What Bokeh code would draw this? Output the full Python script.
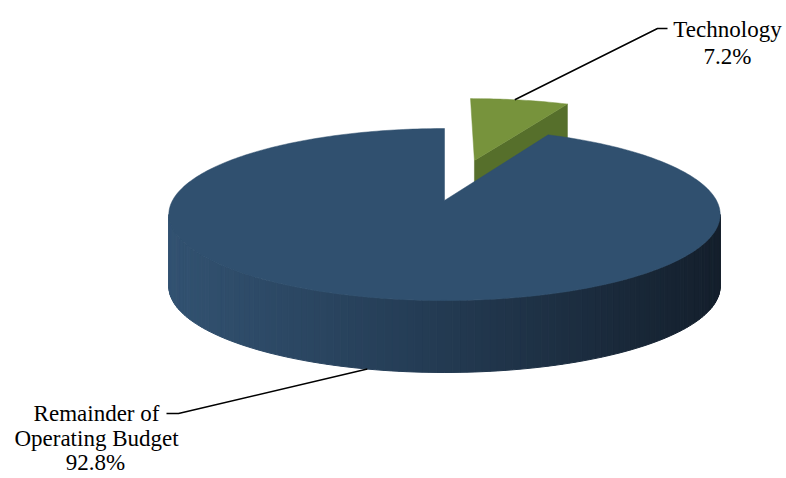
import math
from bokeh.plotting import figure
from bokeh.models import Range1d
from bokeh.core.properties import value
from bokeh.embed import file_html
from bokeh.resources import INLINE

# ---- data ----
categories = ["Technology", "Remainder of Operating Budget"]
shares = [7.2, 92.8]
label_lines = [["Technology", "7.2%"], ["Remainder of", "Operating Budget", "92.8%"]]

# ---- projection (3D pie with perspective) ----
CX, CY = 444.0, 200.0     # projected pie centre
A, B = 272.0, 83.7        # horizontal / depth scale
K = 0.163                 # perspective factor
DEPTH = 72.0              # thickness in px
EXPLODE = 0.532           # explosion of the first slice (radius units)


def proj(X, Y, drop=0.0):
    w = 1.0 / (1.0 + K * Y)
    return CX + A * X * w, CY - B * Y * w + drop


def rim(theta_deg, off=(0.0, 0.0)):
    t = math.radians(theta_deg)
    return math.sin(t) + off[0], math.cos(t) + off[1]


total = sum(shares)
tech_span = 360.0 * shares[0] / total
mid = math.radians(tech_span / 2)
off = (EXPLODE * math.sin(mid), EXPLODE * math.cos(mid))

p = figure(width=786, height=478, x_range=Range1d(0, 786), y_range=Range1d(478, 0),
           output_backend="svg", toolbar_location=None, min_border=0)
p.axis.visible = False
p.grid.visible = False
p.outline_line_color = None
p.background_fill_color = "white"
p.border_fill_color = "white"

# ---- technology slice (exploded) ----
apx, apy = proj(*off)
r1x, r1y = proj(*rim(tech_span, off))
# cut face (visible, dark green)
p.patch([apx, r1x, r1x, apx], [apy, r1y, r1y + DEPTH, apy + DEPTH],
        fill_color="#566f2b", line_color="#566f2b", line_width=0.5)
# top face
xs, ys = [apx], [apy]
n = 30
for i in range(n + 1):
    th = tech_span * i / n
    x, y = proj(*rim(th, off))
    xs.append(x); ys.append(y)
p.patch(xs, ys, fill_color="#77933c", line_color="#77933c", line_width=0.5)

# ---- remainder slice ----
th_r = 90 + math.degrees(math.asin(K))
th_l = 270 - math.degrees(math.asin(K))
N = 120
x_left, x_right = proj(*rim(th_l))[0], proj(*rim(th_r))[0]
c_left = (50, 82, 113)
c_mid = (35, 58, 82)
c_right = (20, 31, 44)


def shade(x):
    t = (x - x_left) / (x_right - x_left)
    t = min(max(t, 0), 1)
    if t < 0.5:
        u = t / 0.5
        c = [c_left[j] + (c_mid[j] - c_left[j]) * u for j in range(3)]
    else:
        u = (t - 0.5) / 0.5
        c = [c_mid[j] + (c_right[j] - c_mid[j]) * u for j in range(3)]
    return "#%02x%02x%02x" % tuple(int(round(v)) for v in c)


sx, sy, sc = [], [], []
for i in range(N):
    a0 = th_r + (th_l - th_r) * i / N
    a1 = th_r + (th_l - th_r) * (i + 1) / N
    x0, y0 = proj(*rim(a0))
    x1, y1 = proj(*rim(a1))
    sx.append([x0, x1, x1, x0])
    sy.append([y0, y1, y1 + DEPTH, y0 + DEPTH])
    sc.append(shade((x0 + x1) / 2))
p.patches(sx, sy, fill_color=sc, line_color=sc, line_width=1)

cx0, cy0 = proj(0.0, 0.0)
xs, ys = [cx0], [cy0]
n = 300
for i in range(n + 1):
    th = tech_span + (360 - tech_span) * i / n
    x, y = proj(*rim(th))
    xs.append(x); ys.append(y)
p.patch(xs, ys, fill_color="#30506f", line_color="#30506f", line_width=0.5)

# ---- leader lines ----
ax, ay = proj(*rim(tech_span * 0.45, off))
p.line([ax, 657, 667], [ay, 28, 28], line_color="black", line_width=1.5)
bx, by = proj(*rim(194))
p.line([bx + 1, 178, 166], [by + DEPTH, 413, 413], line_color="black", line_width=1.5)

# ---- labels ----
font = value("Liberation Serif")
p.text(x=[727, 727], y=[29, 56], text=label_lines[0], text_font=font,
       text_font_size="23px", text_align="center", text_baseline="alphabetic",
       text_color="black")
p.text(x=[96, 96, 95], y=[413, 438, 462], text=label_lines[1], text_font=font,
       text_font_size="23px", text_align="center", text_baseline="alphabetic",
       text_color="black")

open("out.html", "w").write(file_html(p, INLINE))
